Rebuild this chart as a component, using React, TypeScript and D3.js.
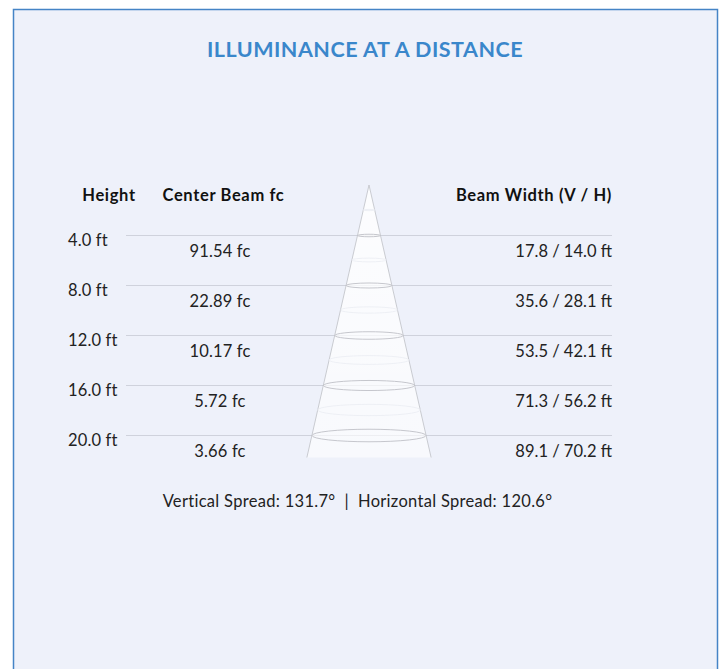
import { useEffect, useRef } from "react";
import * as d3 from "d3";

// mounting heights (ft) and photometrics
const heights = [4, 8, 12, 16, 20];
const centerBeam = [91.54, 22.89, 10.17, 5.72, 3.66];
const beamV = [17.8, 35.6, 53.5, 71.3, 89.1];
const beamH = [14.0, 28.1, 42.1, 56.2, 70.2];
const verticalSpread = 131.7;
const horizontalSpread = 120.6;
const coneDepth = 21.8;

const W = 723;
const H = 669;
const FONT = "Lato, 'Open Sans', sans-serif";

function App() {
  const svgRef = useRef<SVGSVGElement>(null);

  useEffect(() => {
    const svg = d3.select(svgRef.current);
    svg.selectAll("*").remove();

    // panel
    svg.append("rect")
      .attr("x", 13.5).attr("y", 9.5)
      .attr("width", 704).attr("height", 700)
      .attr("fill", "#eef1fa")
      .attr("stroke", "#4584c6")
      .attr("stroke-width", 1.5);

    svg.append("text")
      .attr("x", 365).attr("y", 57)
      .attr("text-anchor", "middle")
      .attr("font-family", FONT)
      .attr("font-weight", 700)
      .attr("font-size", 21.5)
      .attr("letter-spacing", 0.5)
      .attr("fill", "#3a87cb")
      .text("ILLUMINANCE AT A DISTANCE");

    // distance from apex -> y
    const y = d3.scaleLinear().domain([0, 20]).range([185, 435]);
    // feet of beam half-width -> px
    const r = d3.scaleLinear().domain([0, 44.55]).range([0, 57]);
    const cx = 369;

    const headers = svg.append("g")
      .attr("font-family", FONT)
      .attr("font-weight", 700)
      .attr("font-size", 16.5)
      .attr("letter-spacing", 0.65)
      .attr("fill", "#111");
    headers.append("text").attr("x", 109).attr("y", 201).attr("text-anchor", "middle").text("Height");
    headers.append("text").attr("x", 223.5).attr("y", 201).attr("text-anchor", "middle").text("Center Beam fc");
    headers.append("text").attr("x", 612).attr("y", 201).attr("text-anchor", "end").text("Beam Width (V / H)");

    // row rules
    svg.append("g")
      .selectAll("line")
      .data(heights)
      .join("line")
      .attr("x1", 126).attr("x2", 612)
      .attr("y1", (d) => y(d) + 0.5).attr("y2", (d) => y(d) + 0.5)
      .attr("stroke", "#cfd2dc")
      .attr("stroke-width", 1);

    // cone
    const halfAt = (h: number) => r((h * beamV[4]) / heights[4] / 2);
    const defs = svg.append("defs");
    const grad = defs.append("linearGradient")
      .attr("id", "coneFill").attr("x1", 0).attr("y1", 0).attr("x2", 0).attr("y2", 1);
    grad.append("stop").attr("offset", "0%").attr("stop-color", "#ffffff").attr("stop-opacity", 0.85);
    grad.append("stop").attr("offset", "100%").attr("stop-color", "#ffffff").attr("stop-opacity", 0.6);

    svg.append("path")
      .attr("d", d3.line()([
        [cx, y(0)],
        [cx - halfAt(coneDepth), y(coneDepth)],
        [cx + halfAt(coneDepth), y(coneDepth)],
        [cx, y(0)],
      ]))
      .attr("fill", "url(#coneFill)")
      .attr("stroke", "none");
    svg.append("path")
      .attr("d", d3.line()([
        [cx - halfAt(coneDepth), y(coneDepth)],
        [cx, y(0)],
        [cx + halfAt(coneDepth), y(coneDepth)],
      ]))
      .attr("fill", "none")
      .attr("stroke", "#c4c6cc")
      .attr("stroke-width", 0.9);

    // faint mid ellipses
    svg.append("g")
      .selectAll("ellipse")
      .data(heights.map((h) => h - 2))
      .join("ellipse")
      .attr("cx", cx).attr("cy", (d) => y(d))
      .attr("rx", (d) => halfAt(d))
      .attr("ry", (d) => halfAt(d) * 0.11)
      .attr("fill", "none")
      .attr("stroke", "#eceef4")
      .attr("stroke-width", 0.9);

    svg.append("g")
      .selectAll("ellipse")
      .data(heights)
      .join("ellipse")
      .attr("cx", cx).attr("cy", (d) => y(d) + 0.5)
      .attr("rx", (d, i) => r(beamV[i] / 2))
      .attr("ry", (d, i) => r(beamV[i] / 2) * 0.11)
      .attr("fill", "none")
      .attr("stroke", "#bfc1c7")
      .attr("stroke-width", 0.9);

    const body = svg.append("g")
      .attr("font-family", FONT)
      .attr("font-size", 16.5)
      .attr("letter-spacing", 0.15)
      .attr("fill", "#222");

    body.selectAll(".h")
      .data(heights)
      .join("text")
      .attr("x", 68).attr("y", (d) => y(d) + 11)
      .text((d) => `${d.toFixed(1)} ft`);

    body.selectAll(".c")
      .data(centerBeam)
      .join("text")
      .attr("x", 220).attr("y", (d, i) => y(heights[i]) + 22)
      .attr("text-anchor", "middle")
      .text((d) => `${d.toFixed(2)} fc`);

    body.selectAll(".w")
      .data(beamV)
      .join("text")
      .attr("x", 612).attr("y", (d, i) => y(heights[i]) + 22)
      .attr("text-anchor", "end")
      .attr("letter-spacing", 0)
      .text((d, i) => `${d.toFixed(1)} / ${beamH[i].toFixed(1)} ft`);

    body.append("text")
      .attr("x", 357.5).attr("y", 507)
      .attr("text-anchor", "middle")
      .attr("letter-spacing", 0.3)
      .attr("xml:space", "preserve")
      .style("white-space", "pre")
      .text(`Vertical Spread: ${verticalSpread.toFixed(1)}°  |  Horizontal Spread: ${horizontalSpread.toFixed(1)}°`);
  }, []);

  return (
    <svg
      ref={svgRef}
      width={W}
      height={H}
      style={{ position: "absolute", left: 0, top: 0, display: "block" }}
    />
  );
}

export default App;
